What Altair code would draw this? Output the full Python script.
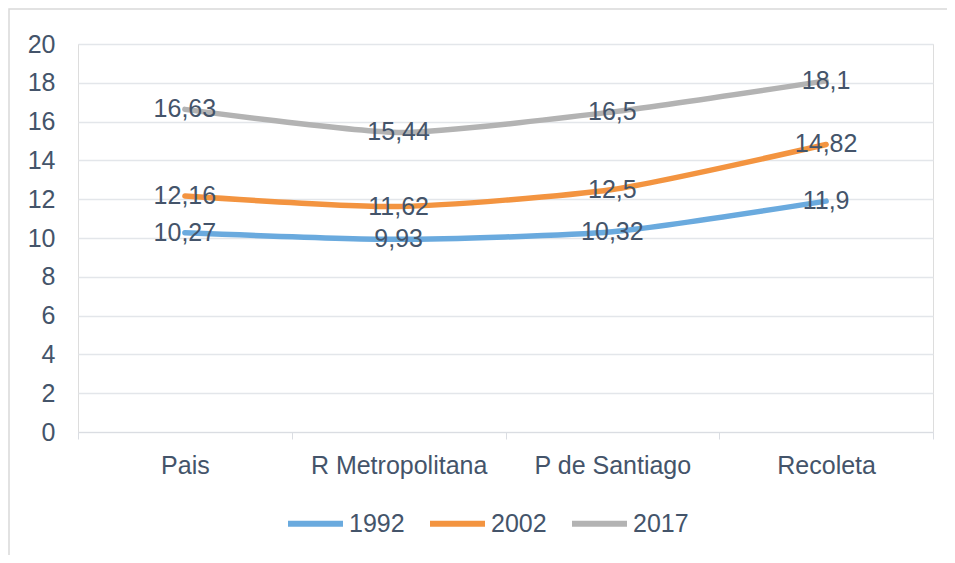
import altair as alt
import pandas as pd

categories = ["Pais", "R Metropolitana", "P de Santiago", "Recoleta"]
years = ["1992", "2002", "2017"]
v1992 = [10.27, 9.93, 10.32, 11.9]
v2002 = [12.16, 11.62, 12.5, 14.82]
v2017 = [16.63, 15.44, 16.5, 18.1]
colors = ["#6AAADE", "#F39440", "#B3B3B3"]

rows = []
for yr, vals in zip(years, [v1992, v2002, v2017]):
    for c, v in zip(categories, vals):
        rows.append({"cat": c, "year": yr, "value": v, "label": f"{v:g}".replace(".", ",")})
df = pd.DataFrame(rows)

FONT = "Liberation Sans"
TXT = "#44546A"

x_enc = alt.X("cat:N", sort=categories, title=None,
              scale=alt.Scale(type="band", paddingInner=0, paddingOuter=0),
              axis=alt.Axis(labelAngle=0, tickBand="extent", domainColor="#DADDE2",
                            tickColor="#DADDE2", tickSize=7, labelPadding=14,
                            labelFontSize=25, labelColor=TXT, labelFont=FONT, grid=False))
y_enc = alt.Y("value:Q", title=None,
              scale=alt.Scale(domain=[0, 20]),
              axis=alt.Axis(values=list(range(0, 21, 2)), domain=False, ticks=False,
                            labelOverlap=False,
                            labelPadding=23, labelFontSize=25, labelColor=TXT, labelFont=FONT,
                            gridColor="#E3E6EA", gridWidth=1.5))

base = alt.Chart(df)

lines = base.mark_line(interpolate="cardinal", tension=0.4, strokeWidth=5.5, strokeCap="round").encode(
    x=x_enc, y=y_enc,
    color=alt.Color("year:N", scale=alt.Scale(domain=years, range=colors), title=None,
                    legend=alt.Legend(orient="none", direction="horizontal",
                                      legendX=207, legendY=449,
                                      symbolType="stroke", symbolSize=3025,
                                      symbolStrokeWidth=6, labelFontSize=25,
                                      labelColor=TXT, labelFont=FONT, labelOffset=3,
                                      columnPadding=13)),
)

labels = base.mark_text(fontSize=25, font=FONT, color=TXT, align="center", baseline="middle").encode(
    x=x_enc, y=y_enc, text="label:N"
)

border = alt.Chart(pd.DataFrame({"a": [0]})).mark_rect(
    fill=None, stroke="#D9D9D9", strokeWidth=1.5
).encode(x=alt.value(-69), x2=alt.value(900), y=alt.value(-35), y2=alt.value(600))

chart = alt.layer(border, lines, labels).properties(
    width=855, height=388,
    autosize=alt.AutoSizeParams(type="none"),
    padding={"left": 70, "top": 36, "right": 14, "bottom": 123},
).configure_view(stroke=None).configure(background="white")

chart.save("out.html", embed_options={"renderer": "svg", "actions": False})
